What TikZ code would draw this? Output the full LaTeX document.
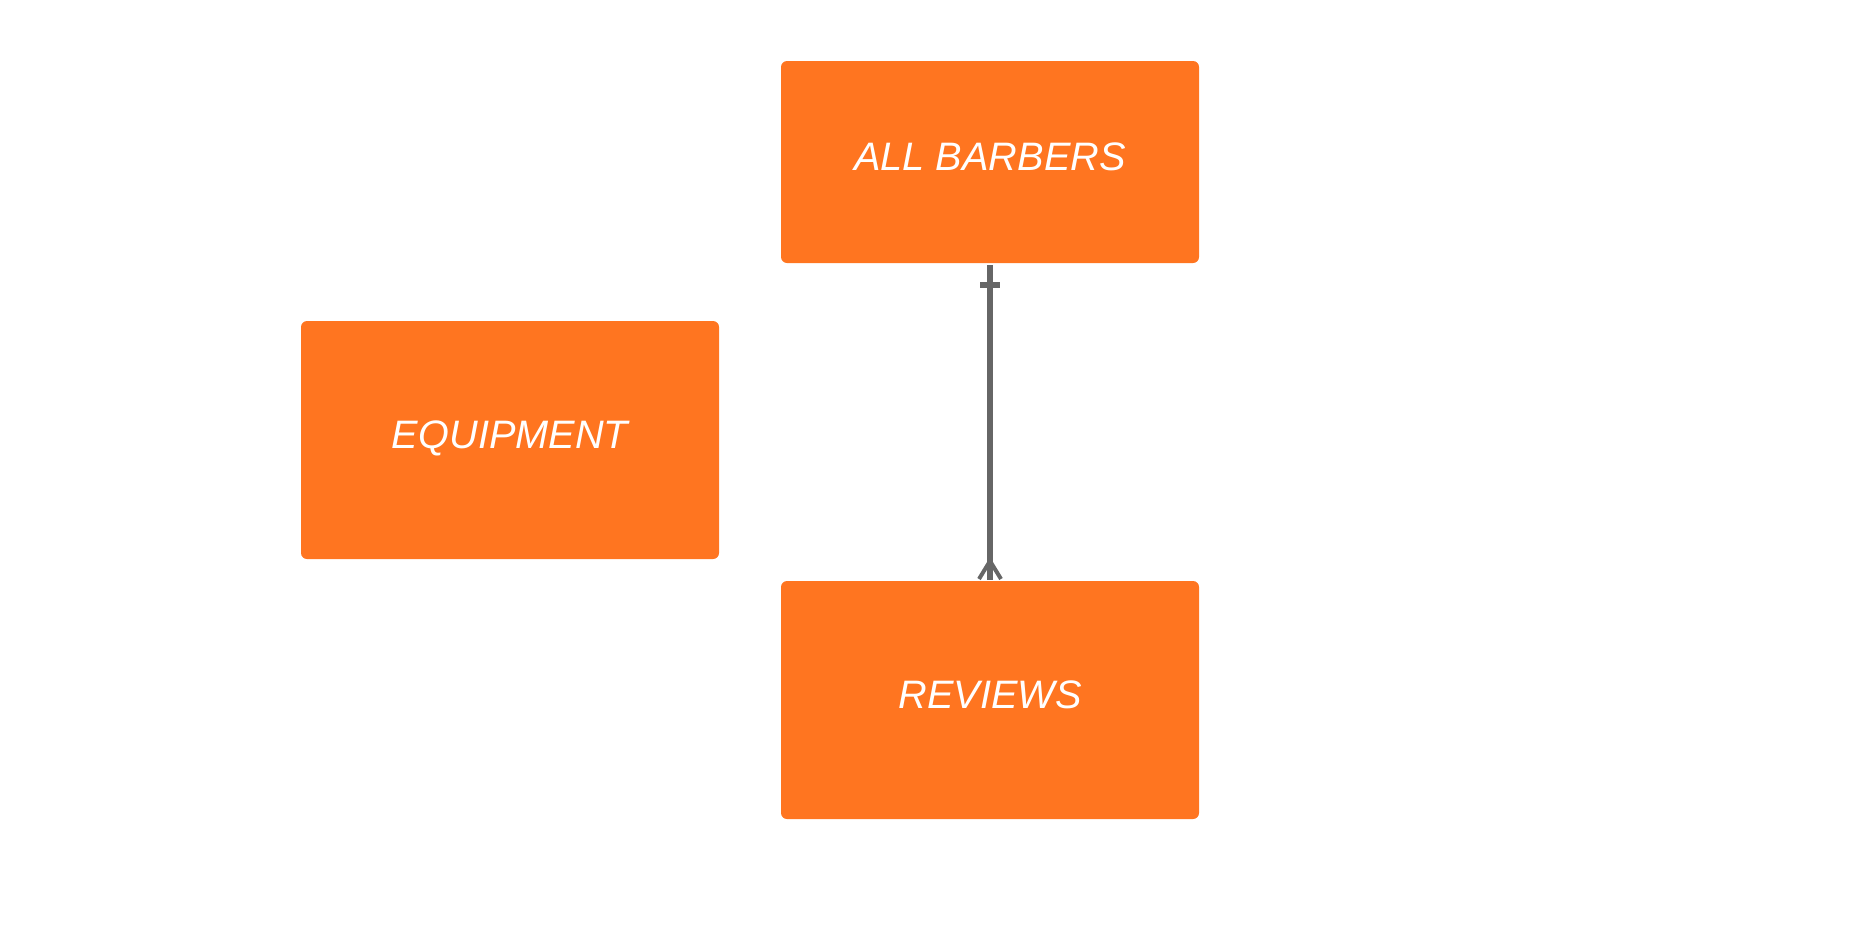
\documentclass[tikz,border=0pt]{standalone}
\usepackage{fontspec}
\setmainfont{Liberation Sans}
\usetikzlibrary{positioning, calc}

\definecolor{entityorange}{HTML}{FF7520}
\definecolor{relgray}{HTML}{666666}

\begin{document}
\begin{tikzpicture}[
    % Styles
    entity/.style={fill=entityorange, draw=none, rounded corners=0.12cm, minimum width=8.36cm, inner sep=0pt, outer sep=0pt,
        text=white, font=\fontsize{22.6}{27}\selectfont\itshape, text depth=0.2cm, align=center},
    relation/.style={draw=relgray, line width=0.11cm},
]

\useasboundingbox (0,0) rectangle (37.48,-18.76);

% Entities
\node[entity, minimum height=4.04cm] (barbers) at (19.8, -3.24) {ALL BARBERS};
\node[entity, minimum height=4.76cm] (equipment) at (10.2, -8.8) {EQUIPMENT};
\node[entity, minimum height=4.76cm] (reviews) at (19.8, -14.0) {REVIEWS};

% One barber -- many reviews
\draw[relation] ([yshift=-0.04cm]barbers.south) -- ([yshift=0.02cm]reviews.north);
\draw[relation, line width=0.12cm] ([xshift=-0.2cm, yshift=-0.44cm]barbers.south) -- ([xshift=0.2cm, yshift=-0.44cm]barbers.south);
\draw[relation, line width=0.08cm] ([yshift=0.4cm]reviews.north) -- ([xshift=-0.22cm, yshift=0.04cm]reviews.north);
\draw[relation, line width=0.08cm] ([yshift=0.4cm]reviews.north) -- ([xshift=0.22cm, yshift=0.04cm]reviews.north);

\end{tikzpicture}
\end{document}
